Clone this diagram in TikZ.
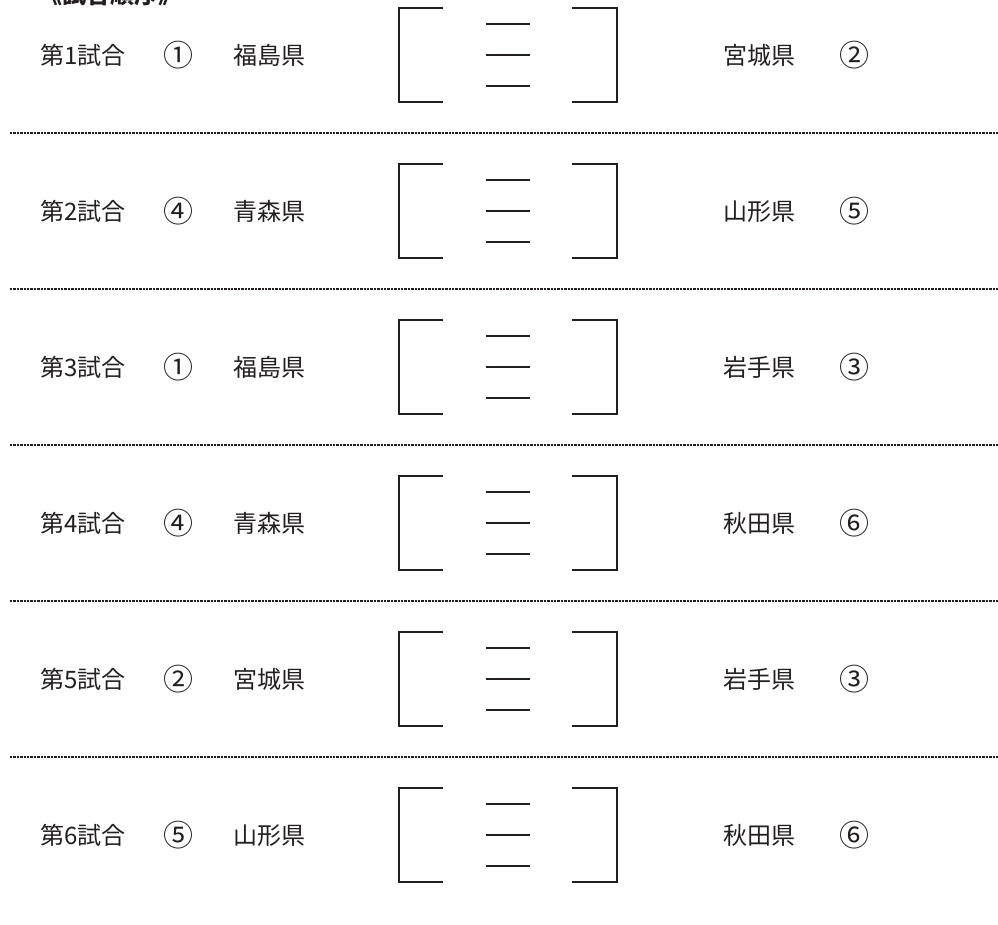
\documentclass[tikz,border=0pt]{standalone}
\usepackage{fontspec}
\newfontfamily\jp{Noto Sans CJK JP}
\definecolor{ink}{HTML}{231F20}
\tikzset{
  lbl/.style={inner sep=0pt, text=ink, font=\jp\fontsize{24}{28}\selectfont},
  num/.style={lbl, font=\jp\fontsize{30}{34}\selectfont},
  brk/.style={draw=ink, line width=2.7pt, line join=miter, line cap=butt},
  sep/.style={draw=ink, line width=2.3pt, dash pattern=on 2.4pt off 1pt}
}
\begin{document}
\begin{tikzpicture}[x=1pt,y=-1pt]
\useasboundingbox (0,0) rectangle (998,924);
\clip (0,0) rectangle (998,924);
\node[lbl, anchor=base west, font=\jp\bfseries\fontsize{24}{28}\selectfont] (title) at (38,3) {《試合順序》};
\foreach \i/\a/\pa/\b/\pb in {1/①/福島県/②/宮城県, 2/④/青森県/⑤/山形県, 3/①/福島県/③/岩手県, 4/④/青森県/⑥/秋田県, 5/②/宮城県/③/岩手県, 6/⑤/山形県/⑥/秋田県}{
  \pgfmathsetmacro{\y}{55+(\i-1)*156}
  \pgfmathsetmacro{\yb}{\y+9}
  \pgfmathsetmacro{\yn}{\y+11}
  \node[lbl, anchor=base west] (g\i) at (40,\yb) {第\i 試合};
  \node[num, anchor=base] (na\i) at (178,\yn) {\a};
  \node[lbl, anchor=base west] (pa\i) at (233,\yb) {\pa};
  \node[lbl, anchor=base west] (pb\i) at (723,\yb) {\pb};
  \node[num, anchor=base] (nb\i) at (854,\yn) {\b};
  \draw[brk] (443,\y-47) -- (399,\y-47) -- (399,\y+47) -- (443,\y+47);
  \draw[brk] (572,\y-47) -- (617,\y-47) -- (617,\y+47) -- (572,\y+47);
  \draw[brk] (486,\y-31) -- (530,\y-31);
  \draw[brk] (486,\y) -- (530,\y);
  \draw[brk] (486,\y+31) -- (530,\y+31);
}
\foreach \k in {0,...,4}{
  \pgfmathsetmacro{\yd}{133+\k*156}
  \draw[sep] (10,\yd) -- (998,\yd);
}
\end{tikzpicture}
\end{document}
